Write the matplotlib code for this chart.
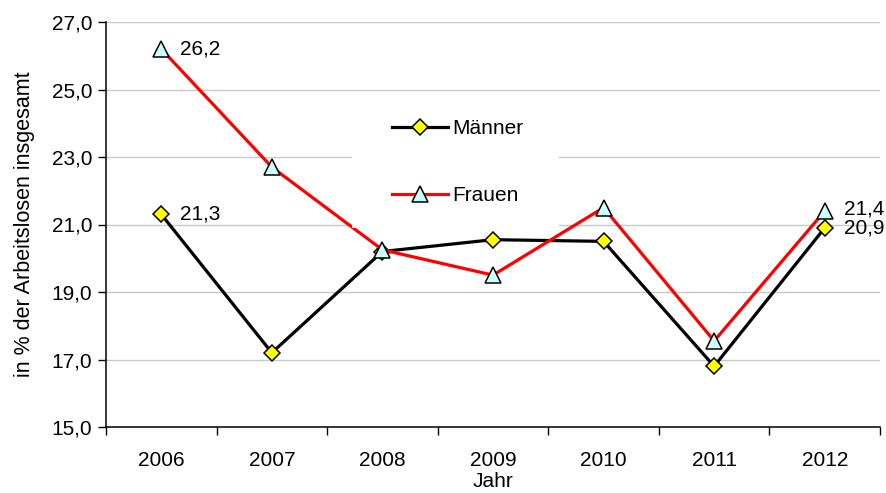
import matplotlib
matplotlib.use("Agg")
import matplotlib.pyplot as plt
from matplotlib.patches import Rectangle
from matplotlib.lines import Line2D

plt.rcParams['font.family'] = ['Liberation Sans', 'DejaVu Sans']

years = ["2006", "2007", "2008", "2009", "2010", "2011", "2012"]
maenner = [21.3, 17.2, 20.2, 20.55, 20.5, 16.8, 20.9]
frauen = [26.2, 22.7, 20.25, 19.5, 21.5, 17.55, 21.4]
labels_m = {0: "21,3", 6: "20,9"}
labels_f = {0: "26,2", 6: "21,4"}
y_ticks = [15, 17, 19, 21, 23, 25, 27]

W, H = 887, 493
fig = plt.figure(figsize=(W / 100, H / 100), dpi=100)
ax = fig.add_axes([106 / W, (H - 427) / H, 774 / W, 405 / H])

x = list(range(len(years)))
ax.plot(x, maenner, color="black", lw=2.3, marker="D", ms=8, mfc="#ffff00",
        mec="black", mew=1.1, zorder=3)
ax.plot(x, frauen, color="#ff0000", lw=2.3, marker="^", ms=12, mfc="#ccffff",
        mec="black", mew=1.1, zorder=4)

offs_f = {0: 0, 6: 2}
offs_m = {0: 0, 6: 0}
for i, t in labels_f.items():
    ax.annotate(t, (i, frauen[i]), xytext=(19, offs_f[i]), textcoords="offset pixels",
                va="center", ha="left", fontsize=15, zorder=6)
for i, t in labels_m.items():
    ax.annotate(t, (i, maenner[i]), xytext=(19, offs_m[i]), textcoords="offset pixels",
                va="center", ha="left", fontsize=15, zorder=6)

ax.set_xlim(-0.5, len(years) - 0.5)
ax.set_ylim(15, 27)
ax.set_yticks(y_ticks)
ax.set_yticklabels([f"{v:.1f}".replace(".", ",") for v in y_ticks], fontsize=15)
ax.set_xticks([i - 0.5 for i in range(len(years) + 1)])
ax.set_xticklabels([])
ax.set_xticks(x, minor=True)
ax.set_xticklabels(years, minor=True, fontsize=15)
ax.tick_params(axis="x", which="minor", length=0, pad=17)
ax.tick_params(axis="x", which="major", length=6, width=1, direction="out")
ax.tick_params(axis="y", length=6, width=1, direction="out", pad=4)
ax.yaxis.grid(True, color="#c8c8c8", lw=1)
ax.set_axisbelow(True)
for s in ["top", "right"]:
    ax.spines[s].set_visible(False)
for s in ["left", "bottom"]:
    ax.spines[s].set_linewidth(1.1)

ax.set_xlabel("Jahr", fontsize=15, labelpad=2)
ax.set_ylabel("in % der Arbeitslosen insgesamt", fontsize=15.5, labelpad=12)

# legend box (white background covering lines)
bx0, bx1 = (352 - 106) / 774, (559 - 106) / 774
by0, by1 = (427 - 228) / 405, (427 - 95) / 405
ax.add_patch(Rectangle((bx0, by0), bx1 - bx0, by1 - by0, transform=ax.transAxes,
                       facecolor="white", edgecolor="none", zorder=5))
handles = [Line2D([], [], color="black", lw=2.3, marker="D", ms=8, mfc="#ffff00",
                  mec="black", mew=1.1),
           Line2D([], [], color="#ff0000", lw=2.3, marker="^", ms=12, mfc="#ccffff",
                  mec="black", mew=1.1)]
leg = ax.legend(handles, ["Männer", "Frauen"], loc="center left",
                bbox_to_anchor=((382 - 106) / 774, (427 - 162) / 405),
                frameon=False, fontsize=15, handlelength=2.65, handletextpad=0.2,
                labelspacing=2.3, borderpad=0)
leg.set_zorder(7)

fig.savefig("out.png", dpi=100)
